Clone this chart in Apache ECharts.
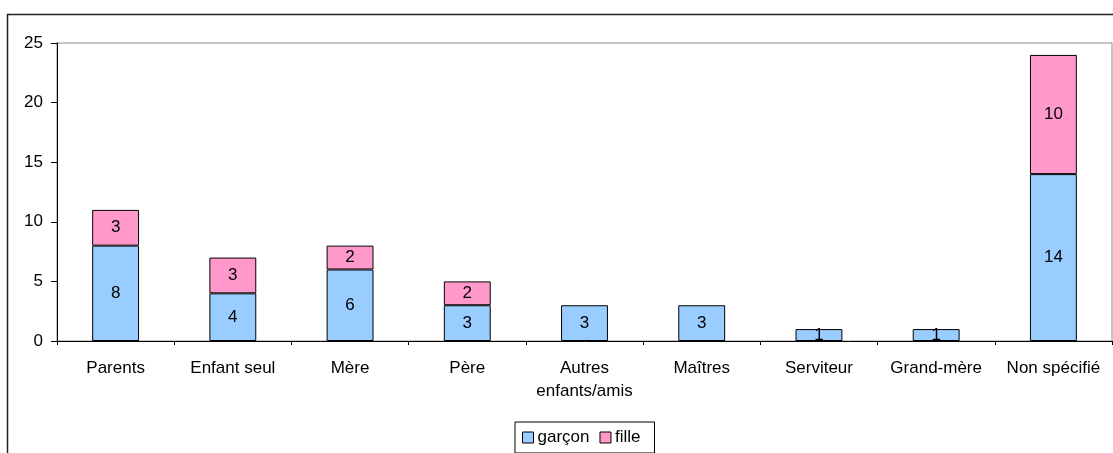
<!DOCTYPE html>
<html>
<head>
<meta charset="utf-8">
<script src="https://cdn.jsdelivr.net/npm/echarts@6/dist/echarts.min.js"></script>
<style>
html,body{margin:0;padding:0;background:#fff;}
#chart{width:1113px;height:453px;}
</style>
</head>
<body>
<div id="chart"></div>
<script>
const categories = ['Parents', 'Enfant seul', 'Mère', 'Père', 'Autres\nenfants/amis', 'Maîtres', 'Serviteur', 'Grand-mère', 'Non spécifié'];
const garcon = [8, 4, 6, 3, 3, 3, 1, 1, 14];
const fille = [3, 3, 2, 2, null, null, null, null, 10];
const yTicks = [0, 5, 10, 15, 20, 25];

const chart = echarts.init(document.getElementById('chart'), null, {renderer: 'canvas'});
const font = 'Liberation Sans, Arial, sans-serif';
const FS = 17;
const labelCfg = {show: true, position: 'inside', color: '#000', fontFamily: font, fontSize: FS,
  formatter: p => (p.value == null ? '' : String(p.value))};
chart.setOption({
  animation: false,
  textStyle: {fontFamily: font},
  graphic: [{
    type: 'rect', shape: {x: 7.5, y: 14.5, width: 1120, height: 460},
    style: {fill: 'none', stroke: '#222', lineWidth: 1.5}, silent: true, z: 100
  }],
  grid: {left: 57, top: 43, right: 1, bottom: 112, show: true, borderColor: '#8c8c8c', borderWidth: 1, containLabel: false},
  legend: {
    bottom: 0, left: 515, itemWidth: 11, itemHeight: 11, itemGap: 10,
    icon: 'rect', backgroundColor: '#fff', borderColor: '#000', borderWidth: 1, padding: [7, 14, 7, 7],
    textStyle: {fontFamily: font, fontSize: FS, color: '#000', padding: [0, 0, 0, -1]},
    data: [
      {name: 'garçon', itemStyle: {color: '#99CCFF', borderColor: '#000', borderWidth: 1}},
      {name: 'fille', itemStyle: {color: '#FF99CC', borderColor: '#000', borderWidth: 1}}
    ]
  },
  xAxis: {
    type: 'category', data: categories,
    axisLine: {lineStyle: {color: '#000', width: 1}},
    axisTick: {show: true, length: 4, lineStyle: {color: '#000'}},
    axisLabel: {color: '#000', fontFamily: font, fontSize: FS, margin: 16, lineHeight: 23, interval: 0}
  },
  yAxis: {
    type: 'value', min: yTicks[0], max: yTicks[yTicks.length - 1], interval: 5,
    axisLine: {show: true, lineStyle: {color: '#000', width: 1}},
    axisTick: {show: true, length: 6, lineStyle: {color: '#000'}},
    axisLabel: {color: '#000', fontFamily: font, fontSize: FS, margin: 14},
    splitLine: {show: false}
  },
  series: [
    {name: 'garçon', type: 'bar', stack: 'total', data: garcon, barWidth: '40%',
      itemStyle: {color: '#99CCFF', borderColor: '#000', borderWidth: 1}, label: labelCfg},
    {name: 'fille', type: 'bar', stack: 'total', data: fille, barWidth: '40%',
      itemStyle: {color: '#FF99CC', borderColor: '#000', borderWidth: 1}, label: labelCfg}
  ]
});
</script>
</body>
</html>
